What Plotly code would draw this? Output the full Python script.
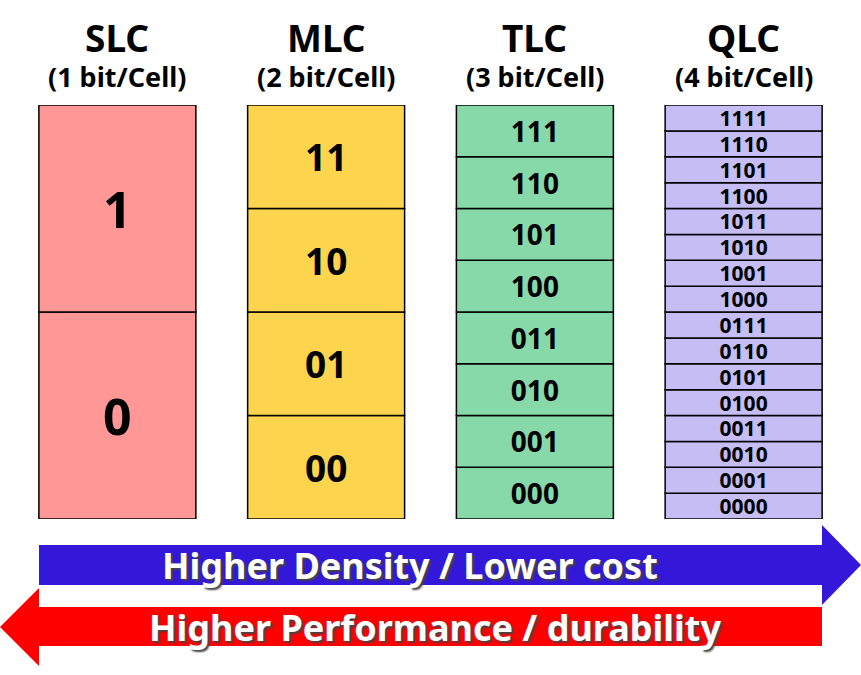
import plotly.graph_objects as go

# cell types and their stored states (top to bottom)
cell_types = ["SLC", "MLC", "TLC", "QLC"]
bits_per_cell = ["(1 bit/Cell)", "(2 bit/Cell)", "(3 bit/Cell)", "(4 bit/Cell)"]
slc_states = ["1", "0"]
mlc_states = ["11", "10", "01", "00"]
tlc_states = ["111", "110", "101", "100", "011", "010", "001", "000"]
qlc_states = ["1111", "1110", "1101", "1100", "1011", "1010", "1001", "1000",
              "0111", "0110", "0101", "0100", "0011", "0010", "0001", "0000"]
all_states = [slc_states, mlc_states, tlc_states, qlc_states]

cell_colors = ["#FF9797", "#FDD44D", "#88D9A9", "#C5BDF3"]
label_sizes = [50, 37, 28, 21]

arrow_right_text = "Higher Density / Lower cost"
arrow_left_text = "Higher Performance / durability"

W, H = 861, 675
# plot area in pixels: x 13..848, y 105..519
L, R, T, B = 13, 861 - 848, 105, 675 - 519
pw, ph = W - L - R, H - T - B


def px(x):
    return (x - L) / pw


def py(y):
    return (H - B - y) / ph


FONT = "Noto Sans"

fig = go.Figure()

for name, states, col, fs in zip(cell_types, all_states, cell_colors, label_sizes):
    n = len(states)
    h = 1.0 / n
    bottom_up = states[::-1]
    fig.add_trace(go.Bar(
        x=[name] * n,
        y=[h] * n,
        base=[i * h for i in range(n)],
        text=bottom_up,
        textposition="inside",
        insidetextanchor="middle",
        textangle=0,
        constraintext="none",
        textfont=dict(family=FONT, size=fs, color="black", weight="bold"),
        marker=dict(color=col, line=dict(color="black", width=1.5)),
        width=0.752,
        hoverinfo="skip",
        showlegend=False,
    ))

for name, sub in zip(cell_types, bits_per_cell):
    fig.add_annotation(x=name, y=py(38), yref="paper", yanchor="middle", text=name,
                       showarrow=False,
                       font=dict(family=FONT, size=37, color="black", weight="bold"))
    fig.add_annotation(x=name, y=py(77), yref="paper", yanchor="middle", text=sub,
                       showarrow=False,
                       font=dict(family=FONT, size=27, color="black", weight="bold"))

# arrows (pixels)
blue = [(39, 545), (822, 545), (822, 525), (861, 565), (822, 605), (822, 585), (39, 585)]
red = [(822, 607), (39, 607), (39, 588), (0, 627), (39, 666), (39, 646), (822, 646)]


def path(pts):
    return "M " + " L ".join(f"{px(a):.5f},{py(b):.5f}" for a, b in pts) + " Z"


fig.add_shape(type="path", path=path(blue), xref="paper", yref="paper",
              fillcolor="#3318DA", line=dict(width=0))
fig.add_shape(type="path", path=path(red), xref="paper", yref="paper",
              fillcolor="#FF0000", line=dict(width=0))

fig.add_annotation(x=px(410), y=py(565), xref="paper", yref="paper",
                   xanchor="center", yanchor="middle", text=arrow_right_text,
                   showarrow=False,
                   font=dict(family=FONT, size=36, color="white", weight="bold",
                             shadow="2px 2px 2px #444"))
fig.add_annotation(x=px(435), y=py(627), xref="paper", yref="paper",
                   xanchor="center", yanchor="middle", text=arrow_left_text,
                   showarrow=False,
                   font=dict(family=FONT, size=36, color="white", weight="bold",
                             shadow="2px 2px 2px #444"))

fig.update_layout(
    width=W, height=H,
    margin=dict(l=L, r=R, t=T, b=B),
    barmode="overlay",
    plot_bgcolor="white", paper_bgcolor="white",
    xaxis=dict(range=[-0.5, 3.5], visible=False, fixedrange=True),
    yaxis=dict(range=[0, 1], visible=False, fixedrange=True),
)

# drop the default page margin so the figure sits at the window corner
fig.write_html("out.html", config={"displayModeBar": False},
               post_script="document.body.style.margin='0';document.body.style.overflow='hidden';")
